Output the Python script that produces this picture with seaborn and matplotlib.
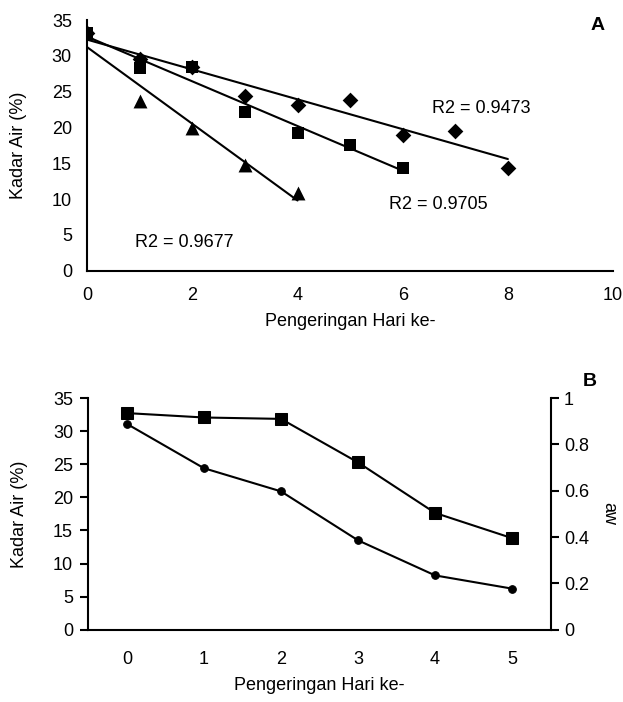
import numpy as np
import pandas as pd
import matplotlib
matplotlib.use("Agg")
import matplotlib.pyplot as plt
import seaborn as sns

sns.set_theme(style="white")
plt.rcParams["font.family"] = ["Liberation Sans", "DejaVu Sans"]
plt.rcParams["text.color"] = "black"
plt.rcParams["axes.labelcolor"] = "black"

# ---- Data: Chart A ----
days_diamond = [0, 1, 2, 3, 4, 5, 6, 7, 8]
kadar_diamond = [33.2, 29.5, 28.5, 24.4, 23.1, 23.8, 18.9, 19.5, 14.4]
days_square = [0, 1, 2, 3, 4, 5, 6]
kadar_square = [33.2, 28.3, 28.4, 22.2, 19.2, 17.6, 14.3]
days_triangle = [0, 1, 2, 3, 4]
kadar_triangle = [33.2, 23.7, 19.9, 14.8, 10.9]
r2_labels = ["R2 = 0.9473", "R2 = 0.9705", "R2 = 0.9677"]

# ---- Data: Chart B ----
days_b = [0, 1, 2, 3, 4, 5]
kadar_b = [31.1, 24.4, 20.9, 13.5, 8.2, 6.2]
aw_b = [0.935, 0.916, 0.91, 0.722, 0.504, 0.395]

FS = 13
fig = plt.figure(figsize=(6.23, 7.02), dpi=100)
axA = fig.add_axes([0.140, 0.6144, 0.844, 0.3571])
axB = fig.add_axes([0.1417, 0.1030, 0.7423, 0.3300])

# ---- Chart A ----
series = [
    (days_diamond, kadar_diamond, "D", 8),
    (days_square, kadar_square, "s", 9),
    (days_triangle, kadar_triangle, "^", 10),
]
for xs, ys, mk, ms in series:
    df = pd.DataFrame({"x": xs, "y": ys})
    sns.regplot(data=df, x="x", y="y", ax=axA, ci=None, truncate=True,
                marker=mk, color="black",
                scatter_kws={"s": ms ** 2, "edgecolors": "black", "linewidths": 0, "zorder": 3, "alpha": 1},
                line_kws={"color": "black", "lw": 1.5, "zorder": 2})

axA.set_xlim(0, 10)
axA.set_ylim(0, 35)
axA.set_xticks([0, 2, 4, 6, 8, 10])
axA.set_yticks([0, 5, 10, 15, 20, 25, 30, 35])
axA.set_xlabel("Pengeringan Hari ke-", fontsize=FS, labelpad=6)
axA.set_ylabel("Kadar Air (%)", fontsize=FS, labelpad=18)
axA.text(6.56, 22.7, r2_labels[0], fontsize=FS, va="center", ha="left")
axA.text(5.73, 9.2, r2_labels[1], fontsize=FS, va="center", ha="left")
axA.text(0.91, 3.9, r2_labels[2], fontsize=FS, va="center", ha="left")
axA.text(0.97, 0.98, "A", transform=axA.transAxes, fontsize=FS + 1, fontweight="bold",
         ha="center", va="center")
for s in ["top", "right"]:
    axA.spines[s].set_visible(False)
for s in ["left", "bottom"]:
    axA.spines[s].set_color("black")
    axA.spines[s].set_linewidth(1.5)
axA.tick_params(direction="out", length=6, width=1.5, colors="black", labelsize=FS)
axA.tick_params(axis="x", pad=6)
axA.tick_params(axis="y", pad=5)

# ---- Chart B ----
dfb = pd.DataFrame({"day": days_b, "kadar": kadar_b, "aw": aw_b})
sns.lineplot(data=dfb, x="day", y="kadar", ax=axB, color="black", lw=1.5,
             marker="o", markersize=5.5, markeredgecolor="black")
axB2 = axB.twinx()
sns.lineplot(data=dfb, x="day", y="aw", ax=axB2, color="black", lw=1.5,
             marker="s", markersize=9, markeredgecolor="black")

axB.set_xlim(-0.5, 5.5)
axB.set_ylim(0, 35)
axB2.set_ylim(0, 1)
axB.set_yticks([0, 5, 10, 15, 20, 25, 30, 35])
axB2.set_yticks([0, 0.2, 0.4, 0.6, 0.8, 1.0])
axB2.set_yticklabels(["0", "0.2", "0.4", "0.6", "0.8", "1"])
axB.set_xticks(np.arange(-0.5, 6.0, 1.0))
axB.set_xticklabels([])
axB.set_xticks(days_b, minor=True)
axB.set_xticklabels([str(d) for d in days_b], minor=True)
axB.tick_params(axis="x", which="minor", length=0, pad=15, labelsize=FS, labelcolor="black")
axB.tick_params(axis="x", which="major", direction="out", length=6, width=1.5, colors="black")
axB.tick_params(axis="y", direction="out", length=6, width=1.5, colors="black", labelsize=FS, pad=5)
axB2.tick_params(axis="y", direction="out", length=6, width=1.5, colors="black", labelsize=FS)
axB.set_xlabel("Pengeringan Hari ke-", fontsize=FS, labelpad=7)
axB.set_ylabel("Kadar Air (%)", fontsize=FS, labelpad=18)
axB2.set_ylabel("aw", fontsize=FS, rotation=270, labelpad=14, va="center")
axB2.text(1.085, 1.07, "B", transform=axB2.transAxes, fontsize=FS + 1, fontweight="bold",
          ha="center", va="center")
for ax in (axB, axB2):
    ax.spines["top"].set_visible(False)
    for s in ["left", "bottom", "right"]:
        ax.spines[s].set_color("black")
        ax.spines[s].set_linewidth(1.5)
axB.spines["right"].set_visible(False)
axB2.spines["left"].set_visible(False)
axB2.spines["bottom"].set_visible(False)
axB2.grid(False)
axB.grid(False)

fig.savefig("out.png", dpi=100)
